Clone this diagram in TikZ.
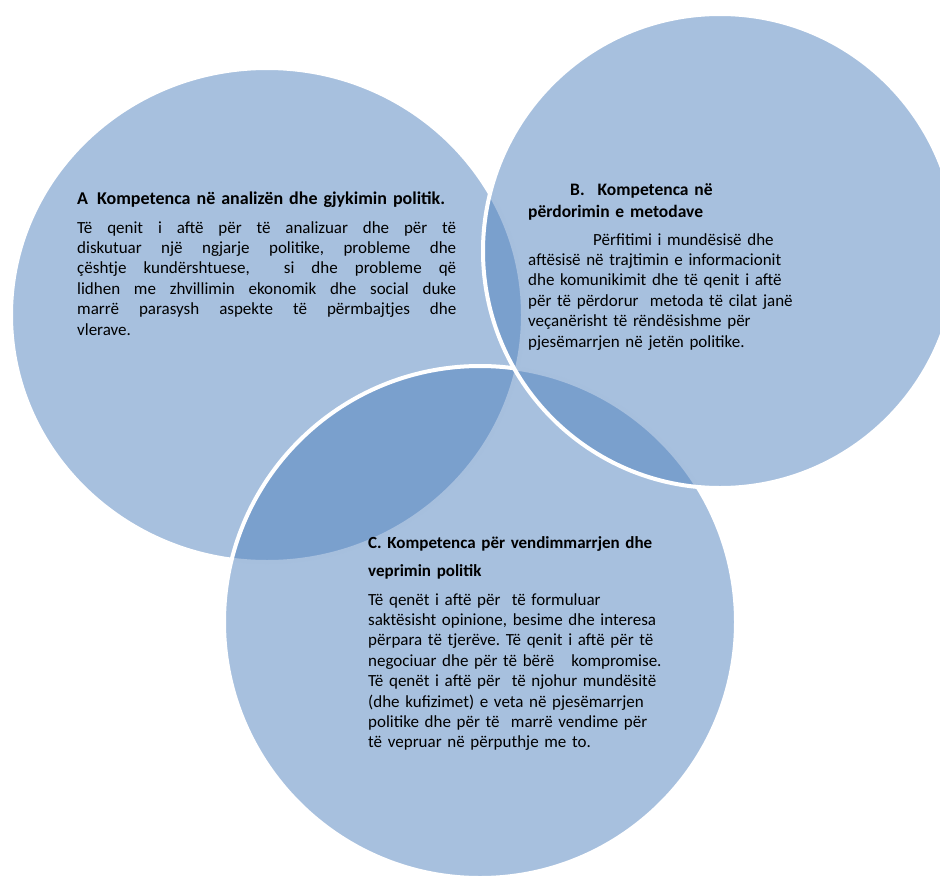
\documentclass[tikz,border=0pt]{standalone}
\usepackage{fontspec}
\setmainfont{Carlito}
\frenchspacing
\definecolor{vennblue}{HTML}{4F81BD}
\newcommand{\jline}[1]{\makebox[379pt][s]{#1}}
\begin{document}
\begin{tikzpicture}[x=1pt,y=-1pt,
  venn/.style={fill=vennblue, fill opacity=0.5, draw=white, draw opacity=1, line width=4pt},
  body/.style={anchor=base west, inner sep=0pt, text width=#1, align=left,
    font=\fontsize{17}{20.4}\selectfont\frenchspacing},
  head/.style={anchor=base west, inner sep=0pt, text width=#1, align=left,
    font=\bfseries\fontsize{17.5}{22}\selectfont},
]
\useasboundingbox (0,0) rectangle (940,878);
% circles: A first, then C, then B on top
\path[venn] (267,315) ellipse [x radius=256pt, y radius=247pt];
\path[venn] (480,622) circle [radius=256pt];
\path[venn] (720,251) circle [radius=237pt];

% A
\node[head=420pt, font=\bfseries\fontsize{18}{22}\selectfont] (Ahead) at (77,204) {A\hspace{9pt}Kompetenca në analizën dhe gjykimin politik.};
\node[body=379pt, align=justify] (Abody) at (77,233) {%
\jline{Të qenit i aftë për të analizuar dhe për të}\\
\jline{diskutuar një ngjarje politike, probleme dhe}\\
\jline{çështje kundërshtuese,\ \ si dhe probleme që}\\
\jline{lidhen me zhvillimin ekonomik dhe social duke}\\
\jline{marrë parasysh aspekte të përmbajtjes dhe}\\
vlerave.};

% B
\node[head=320pt] (Bhead) at (528,195) {\hspace*{42pt}B.\hspace{13pt}Kompetenca në\\përdorimin e metodave};
\node[body=360pt] (Bbody) at (528,245) {\hspace*{65pt}Përfitimi i mundësisë dhe\\
aftësisë në trajtimin e informacionit\\
dhe komunikimit dhe të qenit i aftë\\
për të përdorur\ \ metoda të cilat janë\\
veçanërisht të rëndësishme për\\
pjesëmarrjen në jetën politike.};

% C
\node[head=360pt, font=\bfseries\fontsize{17}{28}\selectfont] (Chead) at (368,548) {C. Kompetenca për vendimmarrjen dhe\\veprimin politik};
\node[body=360pt] (Cbody) at (368,605) {Të qenët i aftë për\ \ të formuluar\\
saktësisht opinione, besime dhe interesa\\
përpara të tjerëve. Të qenit i aftë për të\\
negociuar dhe për të bërë\ \ \ kompromise.\\
Të qenët i aftë për\ \ të njohur mundësitë\\
(dhe kufizimet) e veta në pjesëmarrjen\\
politike dhe për të\ \ marrë vendime për\\
të vepruar në përputhje me to.};
\end{tikzpicture}
\end{document}
